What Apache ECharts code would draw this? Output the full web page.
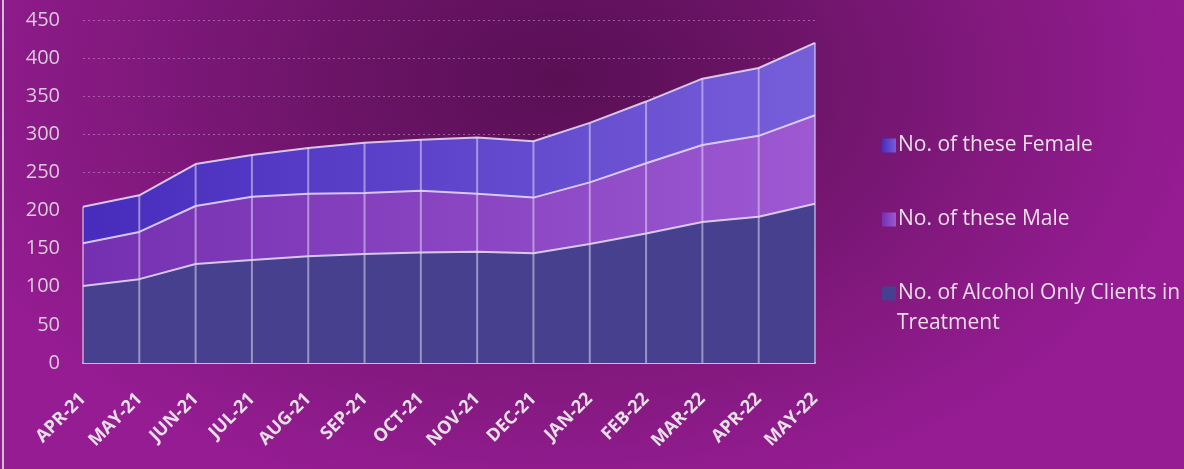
<!DOCTYPE html>
<html>
<head>
<meta charset="utf-8">
<style>
html, body { margin: 0; padding: 0; }
#wrap {
	position: relative;
	width: 1184px;
	height: 469px;
	background: radial-gradient(ellipse 640px 430px at 560px 80px, #590f54 0%, #6b1467 35%, #83197f 70%, #951c92 100%);
}
#edge { position: absolute; left: 2px; top: 0; width: 2px; height: 469px; background: #c9c4c9; }
#main { width: 1184px; height: 469px; }
</style>
</head>
<body>
<div id="wrap">
	<div id="main"></div>
	<div id="edge"></div>
</div>
<script src="https://cdn.jsdelivr.net/npm/echarts@6/dist/echarts.min.js"></script>
<script type="text/javascript">
var months = ['APR-21', 'MAY-21', 'JUN-21', 'JUL-21', 'AUG-21', 'SEP-21', 'OCT-21', 'NOV-21', 'DEC-21', 'JAN-22', 'FEB-22', 'MAR-22', 'APR-22', 'MAY-22'];
var alcoholOnly = [101, 110, 130, 135, 140, 143, 145, 146, 144, 156, 170, 185, 192, 209];
var male = [56, 62, 76, 83, 82, 80, 81, 76, 73, 81, 92, 101, 106, 116];
var female = [48, 48, 55, 55, 60, 66, 67, 74, 74, 78, 81, 87, 89, 95];

var names = ['No. of Alcohol Only Clients in Treatment', 'No. of these Male', 'No. of these Female'];

// totals, used for the drop lines
var totals = alcoholOnly.map(function (v, i) { return v + male[i] + female[i]; });

var myChart = echarts.init(document.getElementById('main'));

function hgrad(a, b) {
	return new echarts.graphic.LinearGradient(0, 0, 1, 0, [
		{ offset: 0, color: a },
		{ offset: 1, color: b }
	]);
}

var lineStyle = { color: 'rgba(235,225,245,0.85)', width: 2 };
var legendText = { color: '#e8dfe8', fontSize: 21, fontFamily: 'Open Sans' };

var option = {
	animation: false,
	textStyle: { fontFamily: 'Open Sans' },
	grid: { left: 83, right: 369, top: 20, bottom: 106 },
	legend: {
		orient: 'vertical',
		left: 877,
		top: 130,
		itemGap: 53,
		itemWidth: 14,
		itemHeight: 14,
		icon: 'rect',
		data: [names[2], names[1], names[0]],
		formatter: function (n) {
			// second line of the long name is drawn below as a graphic text
			return n === names[0] ? 'No. of Alcohol Only Clients in' : n;
		},
		textStyle: { color: legendText.color, fontSize: legendText.fontSize, padding: [0, 0, 0, -3] }
	},
	graphic: [{
		type: 'text',
		left: 897,
		top: 313,
		style: { text: 'Treatment', fill: legendText.color, fontSize: legendText.fontSize, fontFamily: legendText.fontFamily }
	}],
	xAxis: {
		type: 'category',
		boundaryGap: false,
		data: months,
		axisLine: { lineStyle: { color: '#c8c0cc', width: 2 } },
		axisTick: { show: false },
		axisLabel: {
			rotate: 45,
			color: '#e4e0e4',
			fontSize: 18,
			fontWeight: 'bold',
			margin: 33,
			interval: 0
		}
	},
	yAxis: {
		type: 'value',
		min: 0,
		max: 450,
		interval: 50,
		axisLine: { show: false },
		axisTick: { show: false },
		axisLabel: { color: '#d9ccd9', fontSize: 20, margin: 23 },
		splitLine: { lineStyle: { color: 'rgba(200,150,200,0.55)', type: [2, 3], width: 1 } }
	},
	series: [
		{
			name: names[0],
			type: 'line',
			stack: 'all',
			data: alcoholOnly,
			symbol: 'none',
			lineStyle: lineStyle,
			itemStyle: { color: '#46408e' },
			areaStyle: { color: '#46408e', opacity: 1 }
		},
		{
			name: names[1],
			type: 'line',
			stack: 'all',
			data: male,
			symbol: 'none',
			lineStyle: lineStyle,
			itemStyle: { color: hgrad('#7430b0', '#9d58d2') },
			areaStyle: { color: hgrad('#7430b0', '#9d58d2'), opacity: 1 }
		},
		{
			name: names[2],
			type: 'line',
			stack: 'all',
			data: female,
			symbol: 'none',
			lineStyle: lineStyle,
			itemStyle: { color: hgrad('#472cbd', '#775ed9') },
			areaStyle: { color: hgrad('#472cbd', '#775ed9'), opacity: 1 }
		},
		{
			// drop lines
			name: 'drop',
			type: 'bar',
			data: totals,
			barWidth: 2,
			silent: true,
			z: 5,
			itemStyle: { color: 'rgba(225,215,240,0.55)' }
		}
	]
};

myChart.setOption(option);
</script>
</body>
</html>
